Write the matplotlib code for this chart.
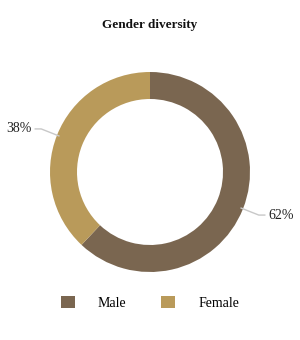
import matplotlib
matplotlib.use("Agg")
import matplotlib.pyplot as plt
import numpy as np
from matplotlib.patches import Patch

categories = ["Male", "Female"]
values = [62, 38]
colors = ["#7a6650", "#b99a5a"]

plt.rcParams['font.family'] = ['Liberation Serif', 'DejaVu Serif']

W, H = 300, 340
fig = plt.figure(figsize=(3, 3.4), dpi=100)
fig.patch.set_facecolor("white")

cx, cy, r = 150, 172, 100
ax = fig.add_axes([(cx - r) / W, 1 - (cy + r) / H, 2 * r / W, 2 * r / H])
wedges, _ = ax.pie(values, colors=colors, startangle=90, counterclock=False,
                   radius=1.0, wedgeprops=dict(width=0.27, edgecolor="none"))
ax.set_xlim(-1, 1)
ax.set_ylim(-1, 1)
ax.set_aspect("equal")
ax.axis("off")

# labels with leader lines
for w, v in zip(wedges, values):
    ang = np.deg2rad((w.theta1 + w.theta2) / 2)
    ux, uy = np.cos(ang), np.sin(ang)
    sgn = 1 if ux > 0 else -1
    x0, y0 = 0.98 * ux, 0.98 * uy
    x1, y1 = 1.17 * ux, 1.17 * uy
    x2 = x1 + sgn * 0.06
    ax.plot([x0, x1, x2], [y0, y1, y1], color="#c8c8c8", lw=1, clip_on=False)
    ax.text(x2 + sgn * 0.04, y1, f"{v}%", ha="left" if sgn > 0 else "right",
            va="center", fontsize=10, color="#222222", clip_on=False)

fig.text(0.5, 1 - 25 / H, "Gender diversity", ha="center", va="center",
         fontsize=9.5, fontweight="bold", color="#111111")

handles = [Patch(facecolor=c, edgecolor="none") for c in colors]
fig.legend(handles, categories, loc="center", bbox_to_anchor=(0.5, 1 - 303 / H),
           ncol=2, frameon=False, fontsize=10, handlelength=1.0, handleheight=1.0,
           handletextpad=1.65, columnspacing=2.5)

fig.savefig("out.png", dpi=100, facecolor="white")
